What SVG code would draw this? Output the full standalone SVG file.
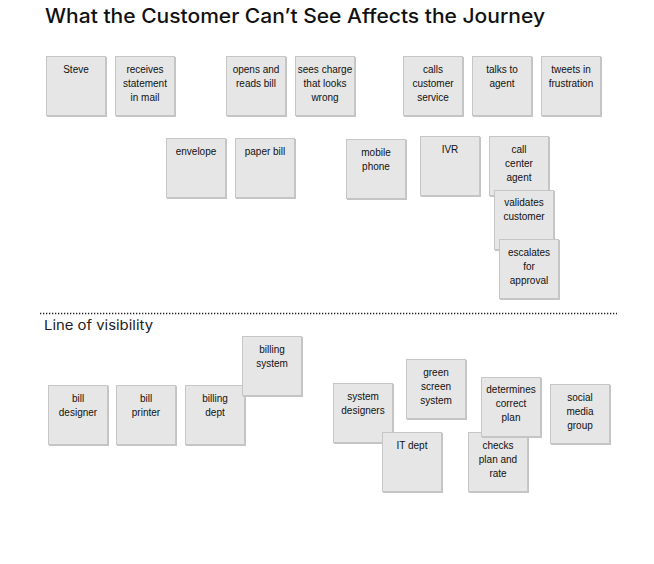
<svg xmlns="http://www.w3.org/2000/svg" width="654" height="564" viewBox="0 0 654 564">
<defs>
<style>
.note rect.sh{fill:#c4c4c4;}
.note rect.bg{fill:#e6e6e6;stroke:#c6c6c6;stroke-width:1;}
.note text{font-family:"Liberation Sans",Arial,sans-serif;font-size:10px;fill:#111;text-anchor:middle;}
.title{font-family:Inter,"Liberation Sans",Arial,sans-serif;font-size:19.5px;font-weight:500;fill:#111;}
.lov{font-family:Inter,"Liberation Sans",Arial,sans-serif;font-size:13.5px;fill:#222;}
</style>
</defs>
<rect width="654" height="564" fill="#ffffff"/>
<text class="title" x="45" y="23" textLength="500" lengthAdjust="spacingAndGlyphs">What the Customer Can’t See Affects the Journey</text>

<g id="above">
<g id="steve" class="note"><rect class="sh" x="47" y="57" width="60" height="60"/><rect class="bg" x="46.5" y="56.5" width="59" height="59"/><text x="76" y="73">Steve</text></g>
<g id="receives" class="note"><rect class="sh" x="116" y="57" width="60" height="60"/><rect class="bg" x="115.5" y="56.5" width="59" height="59"/><text x="145" y="73">receives</text><text x="145" y="87">statement</text><text x="145" y="101">in mail</text></g>
<g id="opens" class="note"><rect class="sh" x="227" y="57" width="60" height="60"/><rect class="bg" x="226.5" y="56.5" width="59" height="59"/><text x="256" y="73">opens and</text><text x="256" y="87">reads bill</text></g>
<g id="sees" class="note"><rect class="sh" x="296" y="57" width="60" height="60"/><rect class="bg" x="295.5" y="56.5" width="59" height="59"/><text x="325" y="73">sees charge</text><text x="325" y="87">that looks</text><text x="325" y="101">wrong</text></g>
<g id="calls" class="note"><rect class="sh" x="404" y="57" width="60" height="60"/><rect class="bg" x="403.5" y="56.5" width="59" height="59"/><text x="433" y="73">calls</text><text x="433" y="87">customer</text><text x="433" y="101">service</text></g>
<g id="talks" class="note"><rect class="sh" x="473" y="57" width="60" height="60"/><rect class="bg" x="472.5" y="56.5" width="59" height="59"/><text x="502" y="73">talks to</text><text x="502" y="87">agent</text></g>
<g id="tweets" class="note"><rect class="sh" x="542" y="57" width="60" height="60"/><rect class="bg" x="541.5" y="56.5" width="59" height="59"/><text x="571" y="73">tweets in</text><text x="571" y="87">frustration</text></g>

<g id="envelope" class="note"><rect class="sh" x="167" y="139" width="60" height="60"/><rect class="bg" x="166.5" y="138.5" width="59" height="59"/><text x="196" y="155">envelope</text></g>
<g id="paperbill" class="note"><rect class="sh" x="236" y="139" width="60" height="60"/><rect class="bg" x="235.5" y="138.5" width="59" height="59"/><text x="265" y="155">paper bill</text></g>
<g id="mobile" class="note"><rect class="sh" x="347" y="140" width="60" height="60"/><rect class="bg" x="346.5" y="139.5" width="59" height="59"/><text x="376" y="156">mobile</text><text x="376" y="170">phone</text></g>
<g id="ivr" class="note"><rect class="sh" x="421" y="137" width="60" height="60"/><rect class="bg" x="420.5" y="136.5" width="59" height="59"/><text x="450" y="153">IVR</text></g>
<g id="agent" class="note"><rect class="sh" x="490" y="137" width="60" height="60"/><rect class="bg" x="489.5" y="136.5" width="59" height="59"/><text x="519" y="153">call</text><text x="519" y="167">center</text><text x="519" y="181">agent</text></g>
<g id="validates" class="note"><rect class="sh" x="495" y="191" width="60" height="60"/><rect class="bg" x="494.5" y="190.5" width="59" height="59"/><text x="524" y="206">validates</text><text x="524" y="220">customer</text></g>
<g id="escalates" class="note"><rect class="sh" x="500" y="240" width="60" height="60"/><rect class="bg" x="499.5" y="239.5" width="59" height="59"/><text x="529" y="256">escalates</text><text x="529" y="270">for</text><text x="529" y="284">approval</text></g>
</g>

<g id="connectors">
<line x1="40" y1="313.5" x2="617" y2="313.5" stroke="#222" stroke-width="1.3" stroke-dasharray="1.3 1.7"/>
</g>
<text class="lov" x="44" y="330" textLength="109" lengthAdjust="spacingAndGlyphs">Line of visibility</text>

<g id="below">
<g id="billdesigner" class="note"><rect class="sh" x="49" y="386" width="60" height="60"/><rect class="bg" x="48.5" y="385.5" width="59" height="59"/><text x="78" y="402">bill</text><text x="78" y="416">designer</text></g>
<g id="billprinter" class="note"><rect class="sh" x="117" y="386" width="60" height="60"/><rect class="bg" x="116.5" y="385.5" width="59" height="59"/><text x="146" y="402">bill</text><text x="146" y="416">printer</text></g>
<g id="billingdept" class="note"><rect class="sh" x="186" y="386" width="60" height="60"/><rect class="bg" x="185.5" y="385.5" width="59" height="59"/><text x="215" y="402">billing</text><text x="215" y="416">dept</text></g>
<g id="billingsystem" class="note"><rect class="sh" x="243" y="337" width="60" height="60"/><rect class="bg" x="242.5" y="336.5" width="59" height="59"/><text x="272" y="353">billing</text><text x="272" y="367">system</text></g>
<g id="sysdesigners" class="note"><rect class="sh" x="334" y="384" width="60" height="60"/><rect class="bg" x="333.5" y="383.5" width="59" height="59"/><text x="363" y="400">system</text><text x="363" y="414">designers</text></g>
<g id="itdept" class="note"><rect class="sh" x="383" y="433" width="60" height="60"/><rect class="bg" x="382.5" y="432.5" width="59" height="59"/><text x="412" y="449">IT dept</text></g>
<g id="greenscreen" class="note"><rect class="sh" x="407" y="360" width="60" height="60"/><rect class="bg" x="406.5" y="359.5" width="59" height="59"/><text x="436" y="376">green</text><text x="436" y="390">screen</text><text x="436" y="404">system</text></g>
<g id="checks" class="note"><rect class="sh" x="469" y="433" width="60" height="60"/><rect class="bg" x="468.5" y="432.5" width="59" height="59"/><text x="498" y="449">checks</text><text x="498" y="463">plan and</text><text x="498" y="477">rate</text></g>
<g id="determines" class="note"><rect class="sh" x="482" y="378" width="60" height="60"/><rect class="bg" x="481.5" y="377.5" width="59" height="59"/><text x="511" y="393">determines</text><text x="511" y="407">correct</text><text x="511" y="421">plan</text></g>
<g id="social" class="note"><rect class="sh" x="551" y="385" width="60" height="60"/><rect class="bg" x="550.5" y="384.5" width="59" height="59"/><text x="580" y="401">social</text><text x="580" y="415">media</text><text x="580" y="429">group</text></g>
</g>
</svg>
